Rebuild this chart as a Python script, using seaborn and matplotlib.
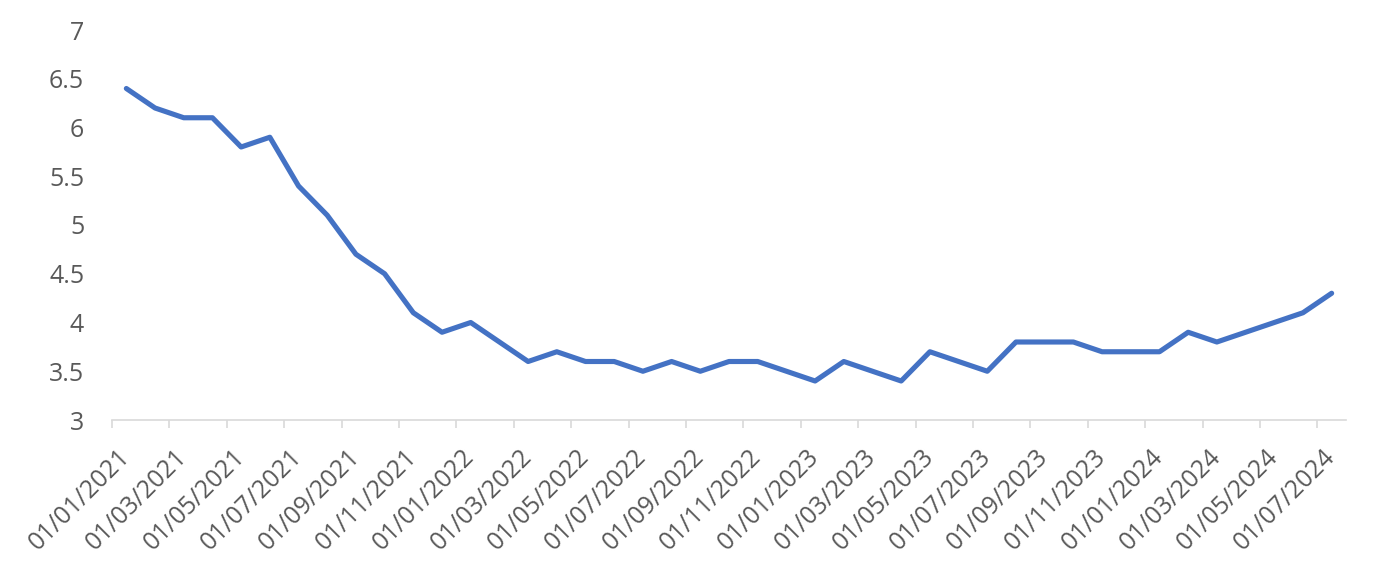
import pandas as pd
import seaborn as sns
import matplotlib.pyplot as plt

# Données mensuelles, janvier 2021 à juillet 2024
months = pd.date_range("2021-01-01", "2024-07-01", freq="MS")
values = [6.4, 6.2, 6.1, 6.1, 5.8, 5.9, 5.4, 5.1, 4.7, 4.5, 4.1, 3.9,
          4.0, 3.8, 3.6, 3.7, 3.6, 3.6, 3.5, 3.6, 3.5, 3.6, 3.6, 3.5,
          3.4, 3.6, 3.5, 3.4, 3.7, 3.6, 3.5, 3.8, 3.8, 3.8, 3.7, 3.7,
          3.7, 3.9, 3.8, 3.9, 4.0, 4.1, 4.3]
y_ticks = [3, 3.5, 4, 4.5, 5, 5.5, 6, 6.5, 7]
y_labels = ["3", "3.5", "4", "4.5", "5", "5.5", "6", "6.5", "7"]

data = pd.DataFrame({"idx": range(len(months)), "date": months, "value": values})

sns.set_style("white")
plt.rcParams["font.family"] = ["Open Sans", "DejaVu Sans"]

fig = plt.figure(figsize=(13.86, 5.77), dpi=100)
ax = fig.add_axes([112 / 1386, 1 - 420 / 577, (1346 - 112) / 1386, 390 / 577])

sns.lineplot(data=data, x="idx", y="value", color="#4472C4", linewidth=3.7, ax=ax)

n = len(months)
ax.set_xlim(-0.5, n - 0.5)
ax.set_ylim(3, 7)

# Graduations aux limites des catégories, étiquettes au centre
ax.set_xticks([i - 0.5 for i in range(0, n + 1, 2)])
ax.set_xticklabels([])
ax.set_xticks(list(range(0, n, 2)), minor=True)
ax.set_xticklabels([d.strftime("%d/%m/%Y") for d in months[::2]], minor=True,
                   rotation=45, ha="right", va="center", rotation_mode="anchor",
                   fontsize=17.8, color="#595959")
ax.tick_params(axis="x", which="major", bottom=True, length=6, width=1.2,
               color="#d9d9d9", direction="out")
ax.tick_params(axis="x", which="minor", bottom=True, length=0, pad=24)

ax.set_yticks(y_ticks)
ax.set_yticklabels(y_labels, fontsize=18, color="#595959")
ax.tick_params(axis="y", length=0, pad=20)

for side in ["left", "right", "top"]:
    ax.spines[side].set_visible(False)
ax.spines["bottom"].set_color("#d9d9d9")
ax.spines["bottom"].set_linewidth(1.2)

ax.set_xlabel("")
ax.set_ylabel("")

plt.savefig("out.png", dpi=100)
